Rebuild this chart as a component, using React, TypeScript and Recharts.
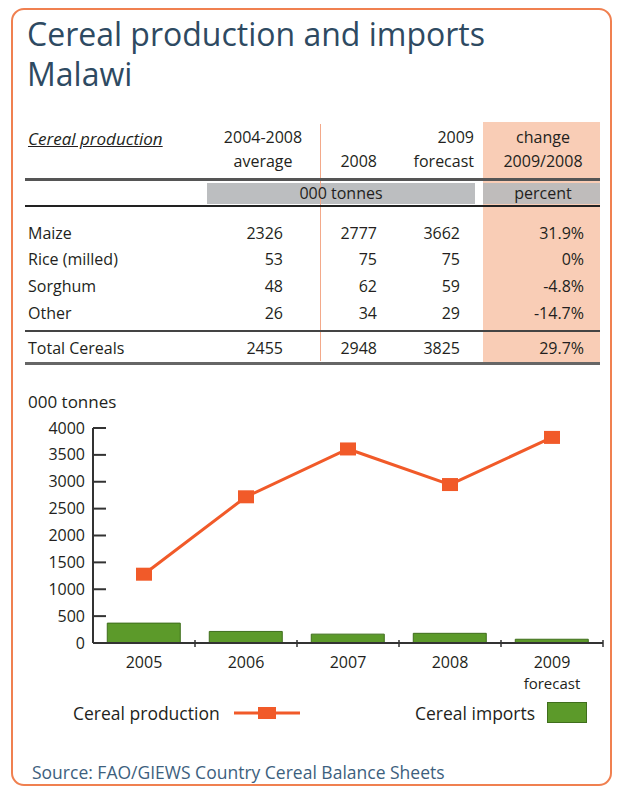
import React from "react";
import { ComposedChart, Bar, Line, XAxis, YAxis } from "recharts";

// chart series (000 tonnes)
const years = ["2005", "2006", "2007", "2008", "2009"];
const yearNotes = ["", "", "", "", "forecast"];
const production = [1280, 2720, 3610, 2948, 3825];
const imports = [370, 215, 165, 180, 70];
const yTicks = [0, 500, 1000, 1500, 2000, 2500, 3000, 3500, 4000];

// table
const cropNames = ["Maize", "Rice (milled)", "Sorghum", "Other"];
const avg0408 = [2326, 53, 48, 26];
const prod2008 = [2777, 75, 62, 34];
const forecast2009 = [3662, 75, 59, 29];
const change = ["31.9%", "0%", "-4.8%", "-14.7%"];
const totalRow = ["Total Cereals", "2455", "2948", "3825", "29.7%"];

const FONT = "'Open Sans', 'Noto Sans', sans-serif";
const ORANGE = "#f15a29";
const GREEN = "#5c9a2a";
const SALMON = "#f9cdb6";
const TITLE = "#2e4a62";

const CHART_W = 619;
const CHART_H = 320;
const M_LEFT = 93;
const M_RIGHT = 16;
const BAND = (CHART_W - M_LEFT - M_RIGHT) / years.length;
const TICK_FS = 16;

const chartData = years.map((y, i) => ({
  year: y,
  note: yearNotes[i],
  production: production[i],
  imports: imports[i],
}));

// absolute positioned text helpers
const Txt = ({ x, y, children, align = "left", size = 16, style = {} }: any) => {
  const w = 220;
  const left = align === "left" ? x : align === "right" ? x - w : x - w / 2;
  return (
    <div
      style={{
        position: "absolute",
        left,
        top: y - 10,
        width: w,
        lineHeight: "20px",
        fontSize: size,
        textAlign: align,
        color: "#231f20",
        whiteSpace: "nowrap",
        ...style,
      }}
    >
      {children}
    </div>
  );
};

const Box = ({ x, y, w, h, bg }: any) => (
  <div style={{ position: "absolute", left: x, top: y, width: w, height: h, background: bg }} />
);

const YTick = (props: any) => {
  const { x, y, payload } = props;
  return (
    <g>
      <line x1={x + 8} x2={x + 21} y1={y} y2={y} stroke="#333" strokeWidth={2} />
      <text x={x} y={y} dy={5.5} textAnchor="end" fontSize={TICK_FS} fill="#231f20" fontFamily={FONT}>
        {payload.value}
      </text>
    </g>
  );
};

const XTick = (props: any) => {
  const { x, y, payload, index } = props;
  const note = yearNotes[index];
  return (
    <g>
      <line x1={x + BAND / 2} x2={x + BAND / 2} y1={y - 5} y2={y + 2} stroke="#333" strokeWidth={1.5} />
      <text x={x} y={y + 23} textAnchor="middle" fontSize={TICK_FS} fill="#231f20" fontFamily={FONT}>
        {payload.value}
      </text>
      {note && (
        <text x={x} y={y + 44} textAnchor="middle" fontSize={15} fill="#231f20" fontFamily={FONT}>
          {note}
        </text>
      )}
    </g>
  );
};

const SquareDot = (props: any) => {
  const { cx, cy } = props;
  if (cx == null || cy == null) return null;
  return <rect x={cx - 8} y={cy - 6.5} width={16} height={13} fill={ORANGE} />;
};

const rowY = [233, 259, 286, 313];

export default function App() {
  return (
    <div
      style={{
        position: "absolute",
        left: 0,
        top: 0,
        width: 619,
        height: 789,
        background: "#fff",
        fontFamily: FONT,
        overflow: "hidden",
      }}
    >
      {/* outer frame */}
      <div
        style={{
          position: "absolute",
          left: 11,
          top: 8,
          width: 597,
          height: 774,
          border: "2.5px solid #f08050",
          borderRadius: 13,
        }}
      />

      {/* title */}
      <div
        style={{
          position: "absolute",
          left: 27,
          top: 14,
          fontSize: 32,
          lineHeight: "40px",
          color: TITLE,
        }}
      >
        Cereal production and imports
        <br />
        Malawi
      </div>

      {/* table shading */}
      <Box x={483} y={122} w={117} h={241} bg={SALMON} />
      <Box x={207} y={183} w={268} h={21} bg="#bcbec0" />
      <Box x={483} y={183} w={117} h={21} bg="#bfbcbb" />
      <Box x={320} y={124} w={1} h={237} bg="#f3a98a" />
      <Box x={25} y={178} w={575} h={3} bg="#555" />
      <Box x={25} y={205} w={575} h={2} bg="#222" />
      <Box x={25} y={330} w={575} h={2} bg="#444" />
      <Box x={25} y={362} w={575} h={3} bg="#666" />

      {/* table header */}
      <Txt x={28} y={139} size={17} style={{ fontStyle: "italic", textDecoration: "underline" }}>
        Cereal production
      </Txt>
      <Txt x={263} y={137} align="center">2004-2008</Txt>
      <Txt x={263} y={161} align="center">average</Txt>
      <Txt x={377} y={161} align="right">2008</Txt>
      <Txt x={474} y={137} align="right">2009</Txt>
      <Txt x={474} y={161} align="right">forecast</Txt>
      <Txt x={543} y={137} align="center">change</Txt>
      <Txt x={543} y={161} align="center">2009/2008</Txt>
      <Txt x={341} y={193} align="center">000 tonnes</Txt>
      <Txt x={543} y={193} align="center">percent</Txt>

      {cropNames.map((name, i) => (
        <React.Fragment key={name}>
          <Txt x={28} y={rowY[i]}>{name}</Txt>
          <Txt x={283} y={rowY[i]} align="right">{avg0408[i]}</Txt>
          <Txt x={377} y={rowY[i]} align="right">{prod2008[i]}</Txt>
          <Txt x={460} y={rowY[i]} align="right">{forecast2009[i]}</Txt>
          <Txt x={584} y={rowY[i]} align="right">{change[i]}</Txt>
        </React.Fragment>
      ))}
      <Txt x={28} y={348}>{totalRow[0]}</Txt>
      <Txt x={283} y={348} align="right">{totalRow[1]}</Txt>
      <Txt x={377} y={348} align="right">{totalRow[2]}</Txt>
      <Txt x={460} y={348} align="right">{totalRow[3]}</Txt>
      <Txt x={584} y={348} align="right">{totalRow[4]}</Txt>

      {/* chart */}
      <Txt x={28} y={402} size={17}>000 tonnes</Txt>
      <div style={{ position: "absolute", left: 0, top: 380 }}>
        <ComposedChart
          width={CHART_W}
          height={CHART_H}
          data={chartData}
          margin={{ top: 48, right: M_RIGHT, left: 0, bottom: 0 }}
          barCategoryGap="14%"
        >
          <XAxis
            dataKey="year"
            height={57}
            axisLine={{ stroke: "#333", strokeWidth: 2 }}
            tickLine={false}
            tickSize={0}
            tick={<XTick />}
            interval={0}
          />
          <YAxis
            width={M_LEFT}
            domain={[0, 4000]}
            ticks={yTicks}
            axisLine={{ stroke: "#333", strokeWidth: 2 }}
            tickLine={false}
            tickSize={0}
            tickMargin={8}
            tick={<YTick />}
            interval={0}
          />
          <Bar dataKey="imports" fill={GREEN} stroke="#3f6e1c" strokeWidth={1} isAnimationActive={false} />
          <Line
            dataKey="production"
            stroke={ORANGE}
            strokeWidth={3}
            dot={<SquareDot />}
            activeDot={false}
            isAnimationActive={false}
          />
        </ComposedChart>
      </div>

      {/* legend */}
      <Txt x={73} y={713} size={17.5}>Cereal production</Txt>
      <svg style={{ position: "absolute", left: 234, top: 703 }} width={66} height={20}>
        <line x1={0} x2={66} y1={10} y2={10} stroke={ORANGE} strokeWidth={3} />
        <rect x={24} y={4} width={18} height={12} fill={ORANGE} />
      </svg>
      <Txt x={415} y={713} size={17.5}>Cereal imports</Txt>
      <div
        style={{
          position: "absolute",
          left: 547,
          top: 702,
          width: 40,
          height: 21,
          background: GREEN,
          boxSizing: "border-box",
          border: "1px solid #3f6e1c",
        }}
      />

      {/* source */}
      <Txt x={32} y={772} size={17.5} style={{ color: "#3d5f7e" }}>
        Source: FAO/GIEWS Country Cereal Balance Sheets
      </Txt>
    </div>
  );
}
